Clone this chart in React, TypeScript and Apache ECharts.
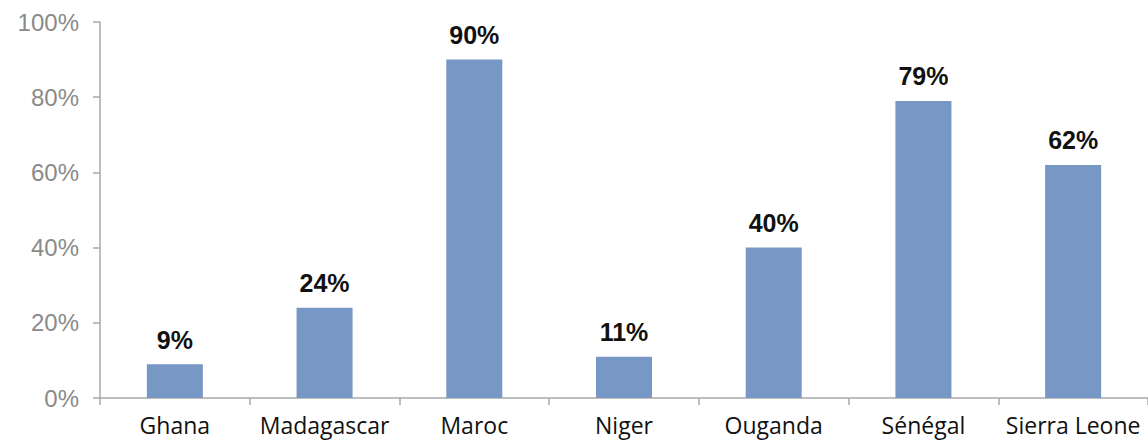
import React, { useEffect, useRef } from "react";
import * as echarts from "echarts";

const categories = ["Ghana", "Madagascar", "Maroc", "Niger", "Ouganda", "Sénégal", "Sierra Leone"];
const values = [9, 24, 90, 11, 40, 79, 62];
const yTicks = [0, 20, 40, 60, 80, 100];

export default function App() {
  const ref = useRef<HTMLDivElement>(null);
  useEffect(() => {
    document.body.style.margin = "0";
    const chart = echarts.init(ref.current!, null, { renderer: "svg" });
    chart.setOption({
      animation: false,
      grid: { left: 100, top: 22, width: 1057, height: 376 },
      xAxis: {
        type: "category",
        data: categories,
        boundaryGap: true,
        axisLine: { show: true, lineStyle: { color: "#a8a8a8", width: 1.5 } },
        axisTick: { show: true, alignWithLabel: false, length: 7, lineStyle: { color: "#a8a8a8", width: 1.5 } },
        axisLabel: {
          margin: 15,
          color: "#111",
          fontSize: 23,
          fontFamily: "Open Sans",
          fontWeight: 500,
          interval: 0,
        },
      },
      yAxis: {
        type: "value",
        min: yTicks[0],
        max: yTicks[yTicks.length - 1],
        interval: 20,
        axisLine: { show: true, lineStyle: { color: "#a8a8a8", width: 1.5 } },
        axisTick: { show: true, inside: false, length: 7, lineStyle: { color: "#a8a8a8", width: 1.5 } },
        splitLine: { show: false },
        axisLabel: {
          formatter: "{value}%",
          margin: 21,
          color: "#8a8a8a",
          fontSize: 24,
          fontFamily: "Liberation Sans",
          padding: [6, 0, 0, 0],
        },
      },
      series: [
        {
          type: "bar",
          data: values,
          barWidth: 56,
          itemStyle: { color: "#7797c5" },
          label: {
            show: true,
            position: "top",
            distance: 12,
            formatter: "{c}%",
            color: "#111",
            fontWeight: "bold",
            fontSize: 25,
            fontFamily: "Liberation Sans",
          },
        },
      ],
    });
    return () => chart.dispose();
  }, []);
  return <div ref={ref} style={{ width: 1148, height: 443 }} />;
}
